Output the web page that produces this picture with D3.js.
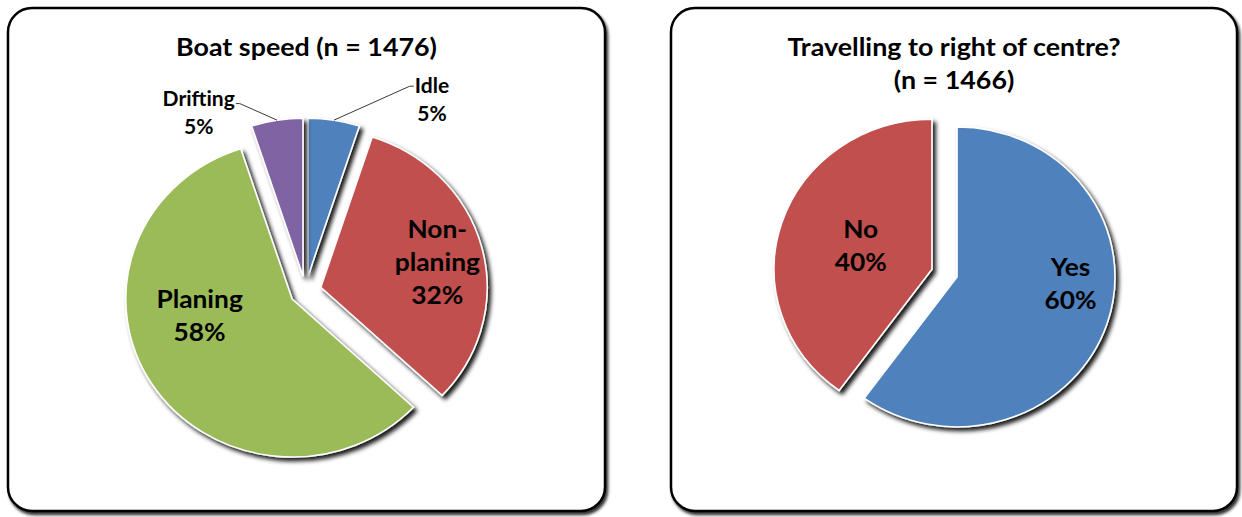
<!DOCTYPE html>
<html>
<head>
<meta charset="utf-8">
<script src="https://cdn.jsdelivr.net/npm/d3@7"></script>
<style>
  body { margin: 0; background: #fff; }
  text { font-family: Lato, "Open Sans", sans-serif; font-weight: 700; fill: #000; }
</style>
</head>
<body>
<svg id="chart" width="1242" height="517"></svg>
<script>
// ---- data ----
const speedCategories = ["Idle", "Non-planing", "Planing", "Drifting"];
const speedValues = [5, 32, 58, 5];
const speedTitle = ["Boat speed (n = 1476)"];

const sideCategories = ["Yes", "No"];
const sideValues = [60, 40];
const sideTitle = ["Travelling to right of centre?", "(n = 1466)"];

// ---- styling / layout ----
const colors = {
  "Idle": "#4F81BD", "Non-planing": "#C0504D", "Planing": "#9BBB59", "Drifting": "#8064A2",
  "Yes": "#4F81BD", "No": "#C0504D"
};
const SX = 1.053;               // charts are drawn slightly wider than tall
const svg = d3.select("#chart");

const defs = svg.append("defs");
defs.append("filter").attr("id", "panelShadow")
  .attr("x", "-5%").attr("y", "-5%").attr("width", "112%").attr("height", "112%")
  .append("feDropShadow").attr("dx", 2).attr("dy", 3).attr("stdDeviation", 1.6)
  .attr("flood-color", "#000").attr("flood-opacity", 0.8);
defs.append("filter").attr("id", "sliceShadow")
  .attr("x", "-30%").attr("y", "-30%").attr("width", "170%").attr("height", "170%")
  .append("feDropShadow").attr("dx", 3).attr("dy", 3.5).attr("stdDeviation", 2.2)
  .attr("flood-color", "#000").attr("flood-opacity", 0.9);

const charts = [
  {
    panel: { x: 8, y: 8, w: 597, h: 503 },
    title: speedTitle, titleY: 46, titleSize: 25.5,
    categories: speedCategories, values: speedValues,
    cx: 305.5, cy: 291, r: 158, explode: 15,
    labels: {
      "Idle":        { type: "outside", angle: 25.8, rf: 1.44, side: 1 },
      "Non-planing": { type: "inside", angle: 76.6, rf: 0.72 },
      "Planing":     { type: "inside", angle: 260, rf: 0.565 },
      "Drifting":    { type: "outside", angle: 341.6, rf: 1.25, side: -1 }
    }
  },
  {
    panel: { x: 671, y: 8, w: 566, h: 503 },
    title: sideTitle, titleY: 46, titleSize: 25.5,
    categories: sideCategories, values: sideValues,
    cx: 944.5, cy: 273, r: 150, explode: 12.5,
    labels: {
      "Yes": { type: "inside", angle: 93, rf: 0.72 },
      "No":  { type: "inside", angle: 290, rf: 0.48 }
    }
  }
];

function labelLines(name, value) {
  const i = name.indexOf("-");
  const parts = i > 0 ? [name.slice(0, i + 1), name.slice(i + 1)] : [name];
  return parts.concat([value + "%"]);
}

// text block centred at (x, y), stretched like the pies
function textBlock(parent, x, y, lines, size, lineH) {
  const g = parent.append("g").attr("transform", `translate(${x},${y}) scale(${SX},1)`);
  const y0 = -(lines.length - 1) * lineH / 2;
  g.selectAll("text").data(lines).join("text")
    .attr("x", 0).attr("y", (d, i) => y0 + i * lineH)
    .attr("text-anchor", "middle").attr("dominant-baseline", "central")
    .style("font-size", size + "px")
    .text(d => d);
  return g;
}

charts.forEach(c => {
  // panel frame
  svg.append("rect")
    .attr("x", c.panel.x).attr("y", c.panel.y)
    .attr("width", c.panel.w).attr("height", c.panel.h)
    .attr("rx", 24).attr("ry", 24)
    .attr("fill", "#fff").attr("stroke", "#000").attr("stroke-width", 2.5)
    .attr("filter", "url(#panelShadow)");

  // title
  const tcx = c.panel.x + c.panel.w / 2;
  c.title.forEach((t, i) => {
    textBlock(svg, tcx, c.titleY + i * 33, [t], c.titleSize, 0);
  });

  const pie = d3.pie().sort(null).value(d => d.value).startAngle(0).endAngle(2 * Math.PI);
  const data = c.categories.map((k, i) => ({ key: k, value: c.values[i] }));
  const arcs = pie(data);
  const arc = d3.arc().innerRadius(0).outerRadius(c.r);

  const pieG = svg.append("g")
    .attr("transform", `translate(${c.cx},${c.cy}) scale(${SX},1)`);

  arcs.forEach(a => {
    const mid = (a.startAngle + a.endAngle) / 2;
    a.ox = Math.sin(mid) * c.explode;
    a.oy = -Math.cos(mid) * c.explode;
    a.mid = mid;
  });

  pieG.selectAll("path.slice").data(arcs).join("path")
    .attr("class", "slice")
    .attr("transform", d => `translate(${d.ox},${d.oy})`)
    .attr("d", arc)
    .attr("fill", d => colors[d.data.key])
    .attr("stroke", "#fff").attr("stroke-width", 1.6)
    .attr("stroke-linejoin", "miter")
    .attr("vector-effect", "non-scaling-stroke")
    .attr("filter", "url(#sliceShadow)");

  // labels
  arcs.forEach(a => {
    const spec = c.labels[a.data.key];
    const lines = labelLines(a.data.key, a.data.value);
    const ang = spec.angle * Math.PI / 180;
    // apex of the exploded slice in page coordinates
    const ax = c.cx + a.ox * SX, ay = c.cy + a.oy;
    if (spec.type === "inside") {
      const lx = ax + Math.sin(ang) * c.r * spec.rf * SX;
      const ly = ay - Math.cos(ang) * c.r * spec.rf;
      textBlock(svg, lx, ly, lines, 25, 33);
    } else {
      const px = ax + Math.sin(a.mid) * c.r * SX;
      const py = ay - Math.cos(a.mid) * c.r;
      const ex = c.cx + Math.sin(ang) * c.r * spec.rf * SX;
      const ey = c.cy - Math.cos(ang) * c.r * spec.rf;
      const tx = ex + spec.side * 4;
      svg.append("path")
        .attr("d", `M${px},${py}L${ex},${ey}L${tx},${ey}`)
        .attr("fill", "none").attr("stroke", "#3a3a3a").attr("stroke-width", 1);
      const g = textBlock(svg, 0, 0, lines, 20, 28);
      const bb = g.node().getBBox();
      const w = bb.width * SX;
      const bx = tx + spec.side * (w / 2 + 1);
      const by = ey + (spec.side > 0 ? 13 : 9);
      g.attr("transform", `translate(${bx},${by}) scale(${SX},1)`);
    }
  });
});
</script>
</body>
</html>
